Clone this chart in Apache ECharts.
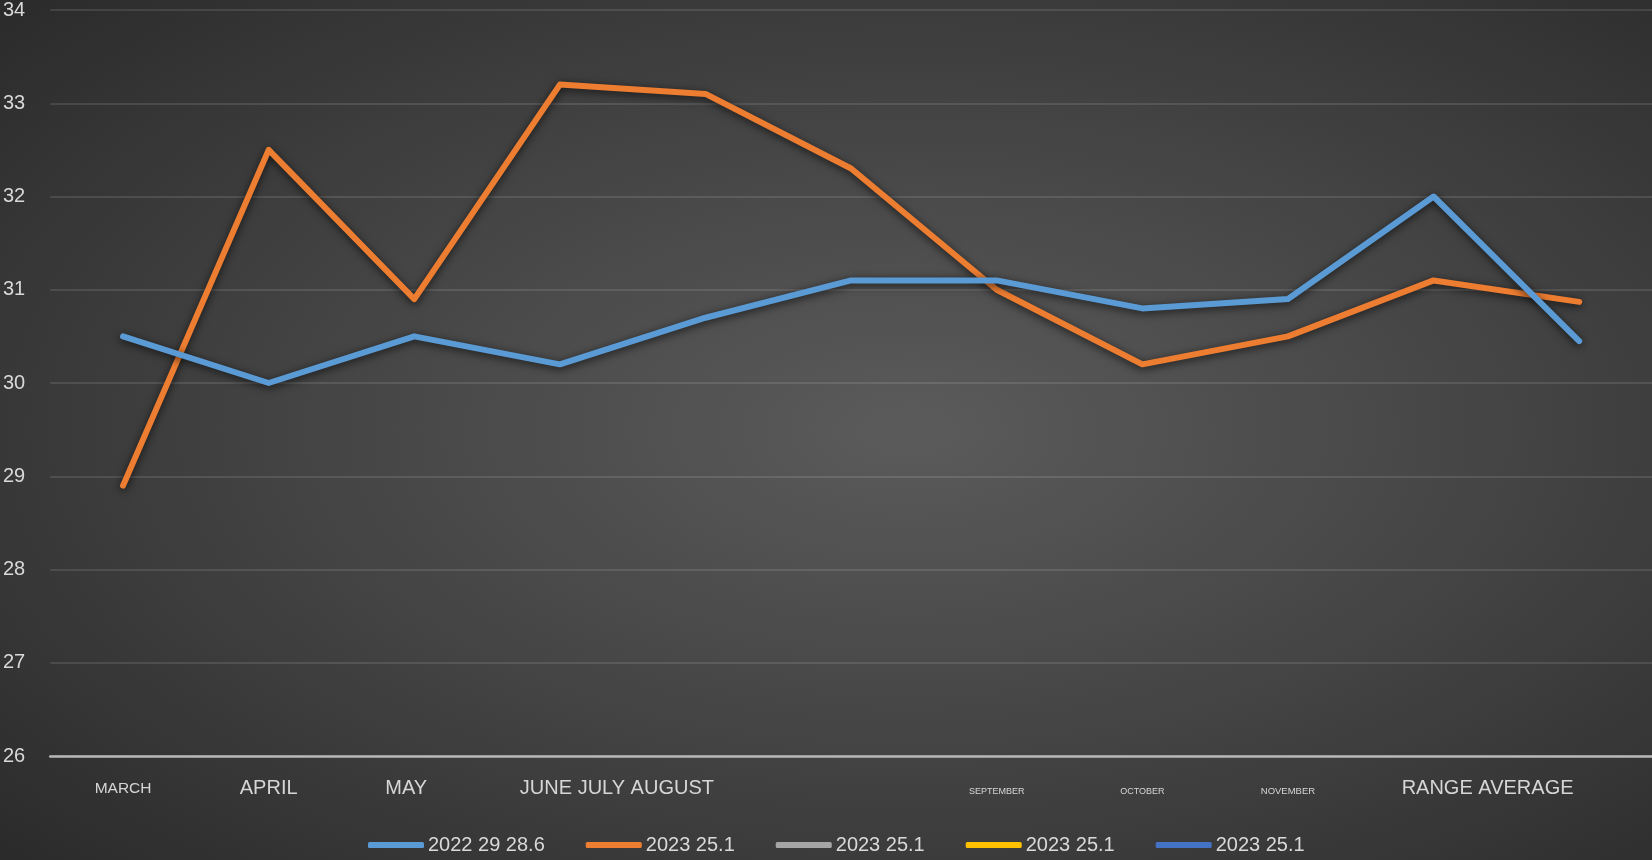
<!DOCTYPE html>
<html>
<head>
<meta charset="utf-8">
<title>Monthly averages</title>
<script src="https://cdn.jsdelivr.net/npm/echarts@6/dist/echarts.min.js"></script>
<style>
  html, body { margin: 0; padding: 0; background: #2a2a2a; }
  #chart { width: 1652px; height: 860px; }
</style>
</head>
<body>
<div id="chart"></div>
<script>
// ---- data ----
const categories = ['MARCH', 'APRIL', 'MAY', 'JUNE', 'JULY', 'AUGUST', 'SEPTEMBER', 'OCTOBER', 'NOVEMBER', 'RANGE', 'AVERAGE'];
const tickLabels = ['MARCH', 'APRIL', 'MAY', 'JUNE JULY AUGUST', '', '', 'SEPTEMBER', 'OCTOBER', 'NOVEMBER', 'RANGE AVERAGE', ''];
const legendLabels = ['2022 29 28.6', '2023 25.1', '2023 25.1', '2023 25.1', '2023 25.1'];
const series2022 = [30.5, 30.0, 30.5, 30.2, 30.7, 31.1, 31.1, 30.8, 30.9, 32.0, 30.45];
const series2023 = [28.9, 32.5, 30.9, 33.2, 33.1, 32.3, 31.0, 30.2, 30.5, 31.1, 30.87];
const series2023b = [];
const series2023c = [];
const series2023d = [];
const yMin = 26, yMax = 34, yStep = 1;

// ---- styling ----
const FONT = "'Liberation Sans', Arial, sans-serif";
const colors = ['#5B9BD5', '#ED7D31', '#A5A5A5', '#FFC000', '#4472C4'];
const seriesKeys = ['s2022', 's2023', 's2023b', 's2023c', 's2023d'];
const seriesData = [series2022, series2023, series2023b, series2023c, series2023d];

// per-tick label font size, horizontal nudge and vertical nudge (px)
const tickFont = [15.5, 20, 20, 20, 20, 20, 9, 9, 9.5, 20, 20];
const tickShift = [0, 0, -8, 57, 0, 0, 0, 0, 0, 54, 0];
const tickDrop = [1, 0, 0, 0, 0, 0, 7, 7, 7, 0, 0];

const rich = {};
tickFont.forEach((fs, i) => {
  const s = tickShift[i];
  rich['t' + i] = {
    fontSize: fs,
    fontFamily: FONT,
    color: '#d6d6d6',
    lineHeight: 24,
    padding: [tickDrop[i], s < 0 ? -2 * s : 0, 0, s > 0 ? 2 * s : 0]
  };
});

const chart = echarts.init(document.getElementById('chart'), null, { renderer: 'canvas' });

const W = 1652, H = 860;

chart.setOption({
  backgroundColor: '#2a2a2a',
  animation: false,
  graphic: [{
    type: 'rect',
    z: -100,
    silent: true,
    shape: { x: 0, y: 0, width: H, height: H },
    scaleX: W / H,
    style: {
      fill: {
        type: 'radial', x: 0.55, y: 0.5, r: 0.78,
        colorStops: [
          { offset: 0, color: '#5b5b5b' },
          { offset: 0.45, color: '#454545' },
          { offset: 1, color: '#282828' }
        ]
      }
    }
  }],
  grid: { left: 47, right: 0, top: 8, bottom: 104, containLabel: false },
  legend: {
    bottom: 0,
    left: 363,
    padding: 5,
    itemWidth: 56,
    itemHeight: 6,
    itemGap: 41,
    icon: 'roundRect',
    data: seriesKeys,
    formatter: name => legendLabels[seriesKeys.indexOf(name)],
    textStyle: { color: '#d9d9d9', fontSize: 20, fontFamily: FONT, padding: [5, 0, 0, -1] }
  },
  xAxis: {
    type: 'category',
    data: categories,
    boundaryGap: true,
    axisLine: { show: true, lineStyle: { color: '#b8b8b8', width: 2.5 } },
    axisTick: { show: false },
    splitLine: { show: false },
    axisLabel: {
      interval: 0,
      margin: 32,
      verticalAlign: 'middle',
      formatter: (value, index) => tickLabels[index] ? '{t' + index + '|' + tickLabels[index] + '}' : '',
      rich: rich
    }
  },
  yAxis: {
    type: 'value',
    min: yMin,
    max: yMax,
    interval: yStep,
    axisLine: { show: false },
    axisTick: { show: false },
    splitLine: { show: true, lineStyle: { color: 'rgba(255,255,255,0.11)', width: 2 } },
    axisLabel: { color: '#d9d9d9', fontSize: 20, fontFamily: FONT, margin: 25 }
  },
  series: seriesKeys.map((key, i) => ({
    name: key,
    type: 'line',
    data: seriesData[i],
    color: colors[i],
    showSymbol: false,
    symbol: 'none',
    z: 5 - i,
    lineStyle: {
      width: 6,
      color: colors[i],
      cap: 'round',
      join: 'round',
      shadowColor: 'rgba(0,0,0,0.7)',
      shadowBlur: 9,
      shadowOffsetY: 2
    }
  }))
});
</script>
</body>
</html>
